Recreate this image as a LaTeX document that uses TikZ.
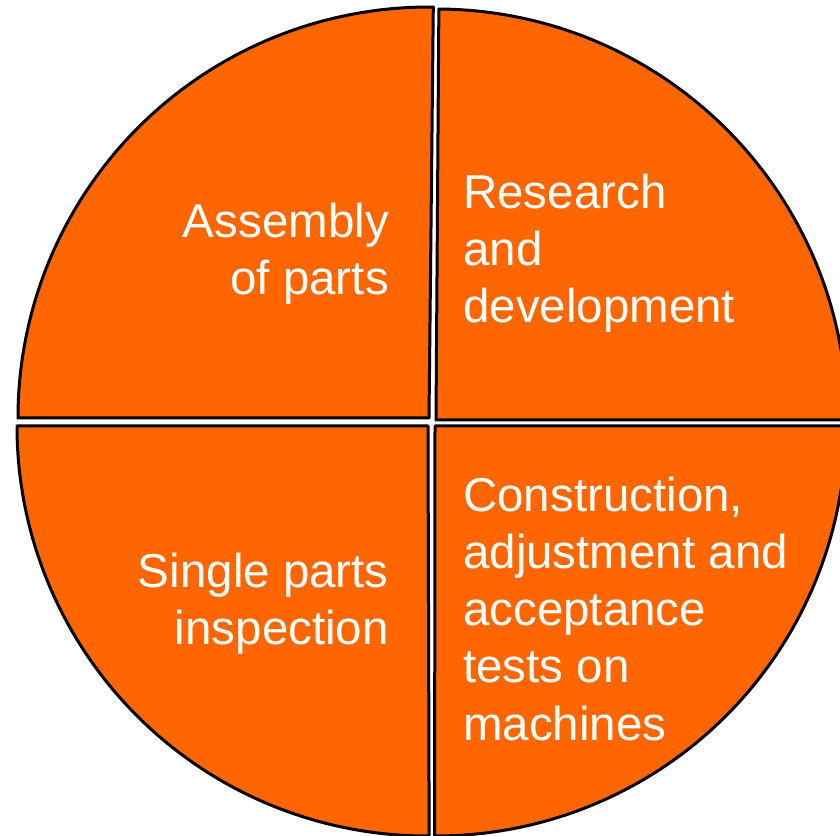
\documentclass[tikz,border=0pt]{standalone}
\usepackage{fontspec}
\setmainfont{Liberation Sans}
\definecolor{pieorange}{HTML}{FF6600}

\begin{document}
\begin{tikzpicture}[x=1pt, y=1pt,
    slice/.style = {draw=black, line width=3pt, fill=pieorange, line join=round},
    lbl/.style = {text=white, inner sep=0pt, font=\fontsize{47.5}{57.2}\selectfont}]
    \useasboundingbox (0,0) rectangle (840,835);
    \clip (0,0) rectangle (840,835);
    % four quarters of the pie
    \draw[slice] (429,417) -- ++(180:411) arc[start angle=180, end angle=89.4, radius=411] -- cycle;
    \draw[slice] (436,415) -- ++(0:411) arc[start angle=0, end angle=89.6, radius=411] -- cycle;
    \draw[slice] (428,409) -- ++(180:411) arc[start angle=180, end angle=270.3, radius=410] -- cycle;
    \draw[slice] (435,409) -- ++(0:411) arc[start angle=0, end angle=-90.2, radius=410] -- cycle;
    % labels (base = last line)
    \node[lbl, align=right, anchor=base east] (AP) at (389,540) {Assembly\\of parts};
    \node[lbl, align=left, anchor=base west] (RD) at (463,512) {Research\\and\\development};
    \node[lbl, align=right, anchor=base east] (SP) at (389,190) {Single parts\\inspection};
    \node[lbl, align=left, anchor=base west] (CA) at (463,95) {Construction,\\adjustment and\\acceptance\\tests on\\machines};
\end{tikzpicture}
\end{document}
